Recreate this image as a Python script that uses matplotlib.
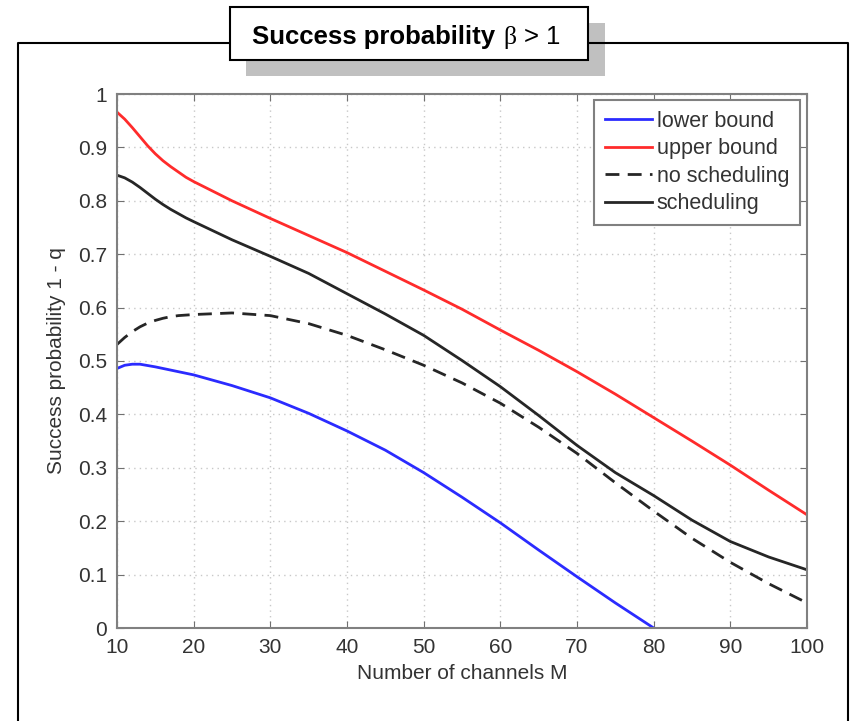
#!/usr/bin/env python3
"""plot.py --- success probability vs number of channels (beta > 1)."""
import numpy as np
import matplotlib

matplotlib.use("Agg")
import matplotlib.pyplot as plt
from matplotlib.lines import Line2D
from matplotlib.patches import Rectangle

plt.rcParams["font.family"] = ["Liberation Sans", "DejaVu Sans"]
plt.rcParams["mathtext.fontset"] = "custom"
plt.rcParams["mathtext.rm"] = "Liberation Serif"
plt.rcParams["mathtext.sf"] = "Liberation Sans"

# curves
M_all = [10, 11, 12, 13, 14, 15, 16, 17, 18, 19, 20, 25, 30, 35, 40, 45,
         50, 55, 60, 65, 70, 75, 80, 85, 90, 95, 100]
upper = [0.966, 0.953, 0.937, 0.920, 0.903, 0.888, 0.875, 0.864, 0.854,
         0.844, 0.836, 0.800, 0.767, 0.735, 0.703, 0.668, 0.633, 0.597,
         0.558, 0.520, 0.480, 0.438, 0.394, 0.350, 0.305, 0.258, 0.212]
sched = [0.848, 0.843, 0.835, 0.825, 0.814, 0.803, 0.793, 0.784, 0.776,
         0.768, 0.761, 0.727, 0.696, 0.664, 0.626, 0.588, 0.548, 0.501,
         0.452, 0.398, 0.342, 0.291, 0.248, 0.202, 0.162, 0.133, 0.109]
nosched = [0.531, 0.544, 0.555, 0.564, 0.571, 0.576, 0.580, 0.583, 0.585,
           0.586, 0.587, 0.590, 0.585, 0.570, 0.548, 0.521, 0.492, 0.459,
           0.421, 0.376, 0.327, 0.272, 0.219, 0.168, 0.123, 0.083, 0.047]

M_lower = [10, 11, 12, 13, 15, 20, 25, 30, 35, 40, 45, 50, 55, 60, 65, 70,
           75, 80]
lower = [0.486, 0.492, 0.494, 0.494, 0.489, 0.474, 0.454, 0.431, 0.402,
         0.369, 0.333, 0.291, 0.245, 0.197, 0.146, 0.096, 0.047, 0.0]

x_ticks = list(range(10, 101, 10))
y_ticks = [i / 10 for i in range(11)]
y_ticklabels = ["0", "0.1", "0.2", "0.3", "0.4", "0.5", "0.6", "0.7", "0.8",
                "0.9", "1"]

W, H = 850, 721


def fx(px):
    return px / W


def fy(py):
    return 1 - py / H


def draw_title(fig) -> None:
    shadow = Rectangle((fx(246), fy(76)), fx(605) - fx(246), fy(23) - fy(76),
                       transform=fig.transFigure, facecolor="#c0c0c0",
                       edgecolor="none", zorder=1)
    box = Rectangle((fx(230), fy(60)), fx(588) - fx(230), fy(7) - fy(60),
                    transform=fig.transFigure, facecolor="white",
                    edgecolor="black", lw=1.5, zorder=3)
    fig.add_artist(shadow)
    fig.add_artist(box)
    t1 = fig.text(fx(252), fy(44), "Success probability", ha="left",
                  va="baseline", fontsize=18.5, fontweight="bold", zorder=4)
    # second half in regular weight, placed after the bold part
    fig.canvas.draw()
    bb = t1.get_window_extent()
    fig.text((bb.x1 + 8) / W, fy(44), r"$\mathrm{β}$ > 1", ha="left",
             va="baseline", fontsize=18.5, zorder=4)


def main() -> None:
    fig = plt.figure(figsize=(W / 100, H / 100), dpi=100)
    fig.patch.set_facecolor("white")

    # outer frame (runs off the bottom edge)
    frame = Line2D([fx(18), fx(18), fx(848), fx(848)],
                   [fy(H + 10), fy(43), fy(43), fy(H + 10)],
                   transform=fig.transFigure, color="black", lw=1.5,
                   zorder=2)
    fig.add_artist(frame)
    draw_title(fig)

    ax = fig.add_axes([fx(117), fy(628), fx(807) - fx(117), fy(94) - fy(628)])
    ax.plot(M_lower, lower, color="#2b2bff", lw=2, label="lower bound")
    ax.plot(M_all, upper, color="#ff2b2b", lw=2, label="upper bound")
    ax.plot(M_all, nosched, color="#262626", lw=2, dashes=(5, 3),
            label="no scheduling")
    ax.plot(M_all, sched, color="#262626", lw=2, label="scheduling")

    ax.set_xlim(10, 100)
    ax.set_ylim(0, 1)
    ax.set_xticks(x_ticks)
    ax.set_yticks(y_ticks)
    ax.set_yticklabels(y_ticklabels)
    ax.grid(True, color="#c8c8c8", ls=(0, (1, 3)), lw=1)
    ax.tick_params(direction="in", top=True, right=True, length=5,
                   color="#707070", labelcolor="#333333", labelsize=15, pad=7)
    for sp in ax.spines.values():
        sp.set_color("#808080")
        sp.set_linewidth(1.5)
    ax.set_xlabel("Number of channels M", fontsize=15, color="#333333",
                  labelpad=5)
    ax.set_ylabel("Success probability 1 - q", fontsize=15, color="#333333",
                  labelpad=9)

    leg = ax.legend(loc="upper right", bbox_to_anchor=(fx(800), fy(100)),
                    bbox_transform=fig.transFigure, borderaxespad=0,
                    fontsize=15.5, handlelength=2.2, handletextpad=0.2,
                    labelspacing=0.3, borderpad=0.5, fancybox=False,
                    framealpha=1)
    leg.get_frame().set_edgecolor("#808080")
    leg.get_frame().set_linewidth(1.5)
    for t in leg.get_texts():
        t.set_color("#333333")

    fig.savefig("out.png", dpi=100, facecolor="white")
    plt.close(fig)


if __name__ == "__main__":
    main()
